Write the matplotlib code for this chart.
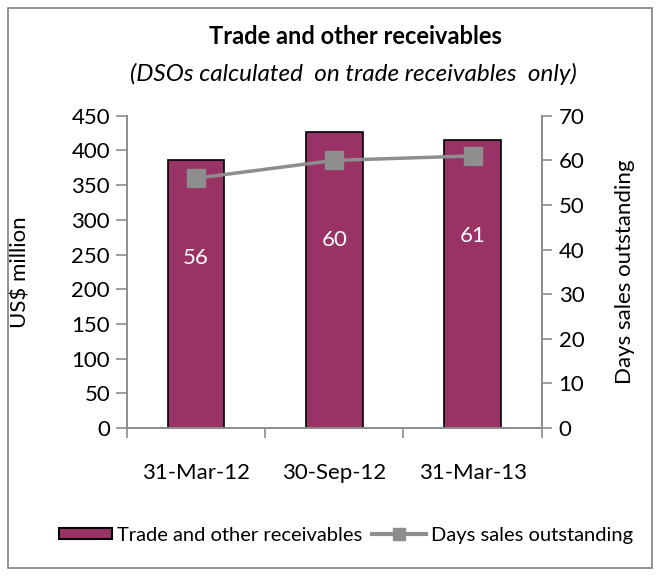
import matplotlib.pyplot as plt
from matplotlib.patches import Rectangle
from matplotlib.lines import Line2D

plt.rcParams['font.family'] = ['Lato', 'DejaVu Sans']

dates = ['31-Mar-12', '30-Sep-12', '31-Mar-13']
receivables = [386, 427, 415]
dso = [56, 60, 61]

bar_color = '#993366'
line_color = '#8e8e8e'
axis_color = '#8c8c8c'

fig = plt.figure(figsize=(6.6, 5.76), dpi=100)
fig.patches.append(Rectangle((0.012, 0.014), 0.976, 0.972, transform=fig.transFigure,
                             fill=False, edgecolor='#808080', linewidth=1.2))

ax = fig.add_axes([0.192, 0.257, 0.629, 0.542])
x = list(range(len(dates)))
ax.bar(x, receivables, width=0.41, color=bar_color, edgecolor='black', linewidth=1.2, zorder=2)
ax.set_xlim(-0.5, 2.5)
ax.set_ylim(0, 450)
ax.set_yticks(range(0, 451, 50))
# category boundaries get the tick marks, names sit between them
ax.set_xticks([-0.5, 0.5, 1.5, 2.5])
ax.set_xticklabels([])
ax.set_xticks(x, minor=True)
ax.set_xticklabels(dates, minor=True)
ax.tick_params(axis='x', which='minor', length=0, pad=25, labelsize=16)
ax.tick_params(axis='x', which='major', length=7, color=axis_color, width=1.2)
ax.tick_params(axis='y', length=8, color=axis_color, width=1.2, labelsize=16, pad=4)
ax.set_ylabel('US$ million', fontsize=16)
ax.yaxis.set_label_coords(-0.232, 0.5)
ax.spines['top'].set_visible(False)
for s in ['left', 'bottom', 'right']:
    ax.spines[s].set_color(axis_color)
    ax.spines[s].set_linewidth(1.2)

ax2 = ax.twinx()
ax2.plot(x, dso, color=line_color, linewidth=2.5, marker='s', markersize=13, zorder=3)
ax2.set_ylim(0, 70)
ax2.set_yticks(range(0, 71, 10))
ax2.tick_params(axis='y', length=7, color=axis_color, width=1.2, labelsize=16, pad=5)
ax2.set_ylabel('Days sales outstanding', fontsize=16)
ax2.yaxis.set_label_coords(1.176, 0.5)
ax2.spines['top'].set_visible(False)
for s in ['left', 'bottom', 'right']:
    ax2.spines[s].set_color(axis_color)
    ax2.spines[s].set_linewidth(1.2)

for xi, v in zip(x, dso):
    ax2.annotate('%d' % v, (xi, v), xytext=(0, -80), textcoords='offset pixels',
                 ha='center', va='center', color='white', fontsize=16)

fig.text(0.538, 0.937, 'Trade and other receivables', ha='center', va='center',
         fontsize=17, fontweight='bold')
fig.text(0.535, 0.871, '(DSOs calculated  on trade receivables  only)', ha='center',
         va='center', fontsize=17.5, style='italic')

handles = [Rectangle((0, 0), 1, 1, facecolor=bar_color, edgecolor='black', linewidth=1.5),
           Line2D([], [], color=line_color, linewidth=3, marker='s', markersize=8)]
fig.legend(handles, ['Trade and other receivables', 'Days sales outstanding'],
           loc='center', bbox_to_anchor=(0.524, 0.071), ncol=2, frameon=False,
           fontsize=14.5, handlelength=2.65, handleheight=0.5, handletextpad=0.25,
           columnspacing=0.5)

fig.savefig('out.png', dpi=100)
